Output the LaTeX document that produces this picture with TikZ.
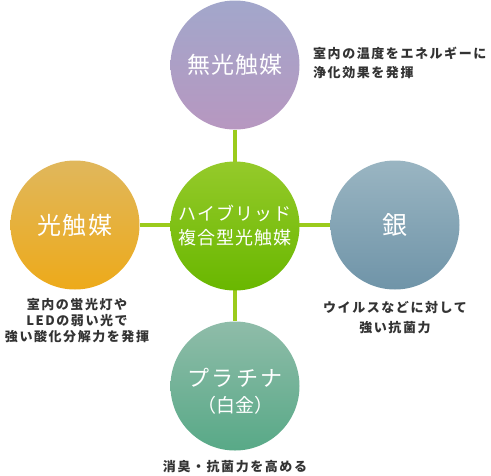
\documentclass[tikz,border=0pt]{standalone}
\usepackage{fontspec}
\newfontfamily\jp{Noto Sans CJK JP}
\definecolor{topA}{HTML}{A2A7CB}\definecolor{topB}{HTML}{B797C0}
\definecolor{leftA}{HTML}{E0B75C}\definecolor{leftB}{HTML}{EDAA1A}
\definecolor{cenA}{HTML}{95CA2A}\definecolor{cenB}{HTML}{69B700}
\definecolor{rightA}{HTML}{9AB5C2}\definecolor{rightB}{HTML}{6F94A8}
\definecolor{botA}{HTML}{8FBCA9}\definecolor{botB}{HTML}{58A987}
\definecolor{linkc}{HTML}{9BCB1C}
\definecolor{labelc}{HTML}{333333}
\tikzset{
  ball/.style={circle, minimum size=129pt, inner sep=0pt},
  balltext/.style={text=white, align=center, inner sep=0pt},
  link/.style={draw=linkc, line width=4pt},
  desc/.style={text=labelc, align=center, inner sep=0pt, font=\jp\bfseries\fontsize{13}{19}\selectfont\addfontfeature{LetterSpace=12}},
}
\begin{document}
\begin{tikzpicture}[x=1pt,y=-1pt]
\useasboundingbox (0,0) rectangle (491,475);
% circles
\node[ball, top color=topA, bottom color=topB] (t) at (235,65) {};
\node[ball, top color=leftA, bottom color=leftB] (l) at (75,225) {};
\node[ball, top color=rightA, bottom color=rightB] (r) at (395,225) {};
\node[ball, top color=botA, bottom color=botB] (b) at (235,386) {};
% connectors
\draw[link] (t.south) -- (b.north);
\draw[link] (l.east) -- (r.west);
\node[ball, top color=cenA, bottom color=cenB] (c) at (235,226) {};
% circle texts
\node[balltext, font=\jp\fontsize{23}{28}\selectfont\addfontfeature{LetterSpace=5}] (tt) at (t) {無光触媒};
\node[balltext, font=\jp\fontsize{24}{28}\selectfont\addfontfeature{LetterSpace=5}] (lt) at (l) {光触媒};
\node[balltext, font=\jp\fontsize{25}{28}\selectfont] (rt) at (r) {銀};
\node[balltext, font=\jp\fontsize{18}{25}\selectfont\addfontfeature{LetterSpace=6}] (ct1) at (235,213) {ハイブリッド};
\node[balltext, font=\jp\fontsize{18}{25}\selectfont\addfontfeature{LetterSpace=6}] (ct2) at (235,238) {複合型光触媒};
\node[balltext, font=\jp\fontsize{22}{28}\selectfont\addfontfeature{LetterSpace=12}] (bt1) at (235,378) {プラチナ};
\node[balltext, font=\jp\fontsize{19}{28}\selectfont] (bt2) at (235,405) {（白金）};
% descriptions
\node[desc, anchor=west, align=left] (td) at (313,63) {室内の温度をエネルギーに\\[-0.5pt]浄化効果を発揮};
\node[desc, font=\jp\bfseries\fontsize{13}{16}\selectfont\addfontfeature{LetterSpace=12}] (ld) at (77,321) {室内の蛍光灯や\\LEDの弱い光で\\強い酸化分解力を発揮};
\node[desc, font=\jp\bfseries\fontsize{13}{20}\selectfont\addfontfeature{LetterSpace=12}] (rd) at (395,318) {ウイルスなどに対して\\強い抗菌力};
\node[desc] (bd) at (235,467) {消臭・抗菌力を高める};
\end{tikzpicture}
\end{document}
